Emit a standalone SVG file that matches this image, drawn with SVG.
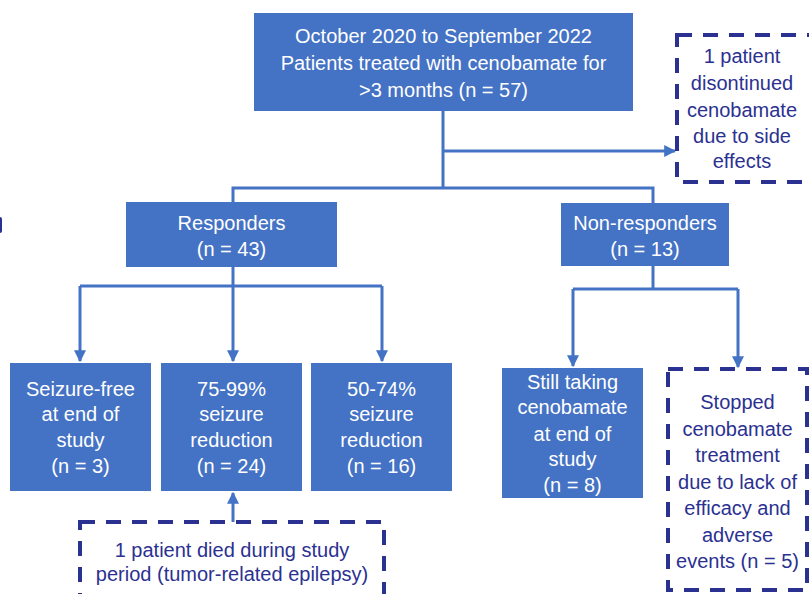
<svg xmlns="http://www.w3.org/2000/svg" width="809" height="594" viewBox="0 0 809 594">
<style>
  .box { fill: #4472C4; }
  .dash { fill: none; stroke: #2B3191; stroke-width: 4; stroke-dasharray: 15 11; }
  .wt { fill: #FFFFFF; font-family: "Liberation Sans", Arial, sans-serif; font-size: 20px; text-anchor: middle; }
  .nt { fill: #2B3191; font-family: "Liberation Sans", Arial, sans-serif; font-size: 20px; text-anchor: middle; }
  .conn { fill: none; stroke: #4472C4; stroke-width: 3; }
</style>
<defs>
  <marker id="arr" viewBox="0 0 10 10" refX="9" refY="5" markerWidth="4" markerHeight="4" orient="auto" markerUnits="strokeWidth">
    <path d="M0,0 L10,5 L0,10 Z" fill="#4472C4"/>
  </marker>
</defs>
<rect x="0" y="0" width="809" height="594" fill="#FFFFFF"/>
<rect x="-2" y="217" width="4" height="16" rx="2" fill="#2B3191"/>

<g id="connectors">
  <path class="conn" d="M443,111 V188"/>
  <path class="conn" d="M443,151 H675" marker-end="url(#arr)"/>
  <path class="conn" d="M233,202 V188 H653 V203"/>
  <path class="conn" d="M233,267 V286"/>
  <path class="conn" d="M80,286 H382"/>
  <path class="conn" d="M80,286 V361" marker-end="url(#arr)"/>
  <path class="conn" d="M233,286 V361" marker-end="url(#arr)"/>
  <path class="conn" d="M382,286 V361" marker-end="url(#arr)"/>
  <path class="conn" d="M653,266 V289"/>
  <path class="conn" d="M573,289 H738"/>
  <path class="conn" d="M573,289 V366" marker-end="url(#arr)"/>
  <path class="conn" d="M738,289 V367" marker-end="url(#arr)"/>
  <path class="conn" d="M233,522 V493" marker-end="url(#arr)"/>
</g>

<g id="top">
  <rect class="box" x="254" y="13" width="379" height="98"/>
  <text class="wt" x="443.5" y="43">October 2020 to September 2022</text>
  <text class="wt" x="443.5" y="70">Patients treated with cenobamate for</text>
  <text class="wt" x="443.5" y="97">&gt;3 months (n = 57)</text>
</g>

<g id="discontinued">
  <rect class="dash" x="677" y="35" width="145" height="147"/>
  <text class="nt" x="742" y="63">1 patient</text>
  <text class="nt" x="742" y="90">disontinued</text>
  <text class="nt" x="742" y="117">cenobamate</text>
  <text class="nt" x="742" y="143">due to side</text>
  <text class="nt" x="742" y="168">effects</text>
</g>

<g id="responders">
  <rect class="box" x="126" y="202" width="211" height="65"/>
  <text class="wt" x="231.5" y="230">Responders</text>
  <text class="wt" x="231.5" y="256">(n = 43)</text>
</g>

<g id="nonresponders">
  <rect class="box" x="561" y="203" width="168" height="63"/>
  <text class="wt" x="645" y="230">Non-responders</text>
  <text class="wt" x="645" y="256">(n = 13)</text>
</g>

<g id="seizurefree">
  <rect class="box" x="10" y="363" width="141" height="128"/>
  <text class="wt" x="80.5" y="396">Seizure-free</text>
  <text class="wt" x="80.5" y="421">at end of</text>
  <text class="wt" x="80.5" y="447">study</text>
  <text class="wt" x="80.5" y="473">(n = 3)</text>
</g>

<g id="r7599">
  <rect class="box" x="161" y="363" width="141" height="128"/>
  <text class="wt" x="231.5" y="396">75-99%</text>
  <text class="wt" x="231.5" y="421">seizure</text>
  <text class="wt" x="231.5" y="447">reduction</text>
  <text class="wt" x="231.5" y="473">(n = 24)</text>
</g>

<g id="r5074">
  <rect class="box" x="311" y="363" width="141" height="128"/>
  <text class="wt" x="381.5" y="396">50-74%</text>
  <text class="wt" x="381.5" y="421">seizure</text>
  <text class="wt" x="381.5" y="447">reduction</text>
  <text class="wt" x="381.5" y="473">(n = 16)</text>
</g>

<g id="died">
  <rect class="dash" x="80" y="522" width="304" height="90"/>
  <text class="nt" x="232" y="557">1 patient died during study</text>
  <text class="nt" x="232" y="581">period (tumor-related epilepsy)</text>
</g>

<g id="stilltaking">
  <rect class="box" x="502" y="368" width="141" height="130"/>
  <text class="wt" x="572.5" y="389">Still taking</text>
  <text class="wt" x="572.5" y="414">cenobamate</text>
  <text class="wt" x="572.5" y="441">at end of</text>
  <text class="wt" x="572.5" y="466">study</text>
  <text class="wt" x="572.5" y="492">(n = 8)</text>
</g>

<g id="stopped">
  <rect class="dash" x="668" y="369" width="139" height="221"/>
  <text class="nt" x="737.5" y="409">Stopped</text>
  <text class="nt" x="737.5" y="436">cenobamate</text>
  <text class="nt" x="737.5" y="462">treatment</text>
  <text class="nt" x="737.5" y="489">due to lack of</text>
  <text class="nt" x="737.5" y="515">efficacy and</text>
  <text class="nt" x="737.5" y="542">adverse</text>
  <text class="nt" x="737.5" y="568">events (n = 5)</text>
</g>
</svg>
